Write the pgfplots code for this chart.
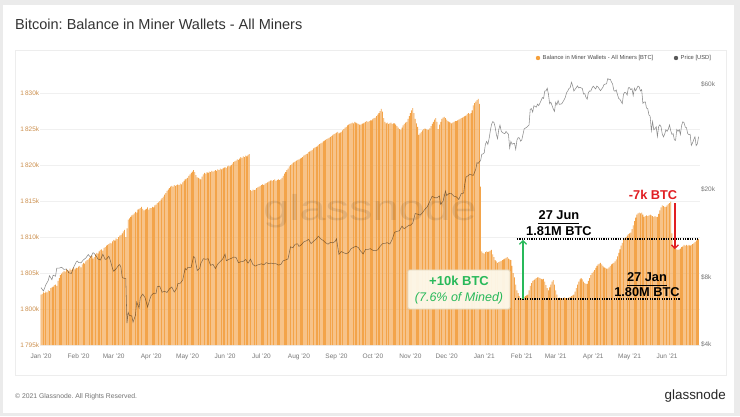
\documentclass[border=0pt]{standalone}
\usepackage{fontspec}
\setmainfont{Liberation Sans}
\usepackage{pgfplots}
\usepackage{pgfplotstable}
\pgfplotsset{compat=1.18}
\usetikzlibrary{arrows.meta}
\frenchspacing
\definecolor{barorange}{RGB}{243,164,74}
\definecolor{legorange}{RGB}{245,160,60}
\definecolor{tickorange}{RGB}{205,145,80}
\definecolor{tickgray}{RGB}{120,120,120}
\definecolor{anngreen}{RGB}{40,185,90}
\definecolor{annred}{RGB}{225,30,35}
\definecolor{boxfill}{RGB}{253,248,234}
\definecolor{boxdraw}{RGB}{228,216,190}

\pgfplotstableread[row sep=\\]{v\\
1802.0\\1802.1\\1802.3\\1802.2\\1802.4\\1802.3\\1802.6\\1802.5\\1802.9\\1803.0\\
1803.1\\1803.3\\1803.4\\1803.2\\1803.9\\1804.3\\1804.7\\1804.9\\1805.1\\1805.3\\
1805.2\\1805.5\\1805.4\\1805.3\\1805.6\\1805.4\\1805.6\\1805.8\\1805.5\\1805.7\\
1805.7\\1805.9\\1806.0\\1805.8\\1806.2\\1806.4\\1806.3\\1806.6\\1806.8\\1806.9\\
1807.1\\1807.3\\1807.4\\1807.0\\1807.2\\1807.6\\1807.8\\1807.7\\1808.0\\1808.2\\
1808.3\\1808.1\\1808.5\\1808.6\\1808.8\\1808.9\\1809.0\\1809.2\\1809.1\\1809.4\\
1809.6\\1809.5\\1809.8\\1809.7\\1810.0\\1810.2\\1810.3\\1810.5\\1810.8\\1811.0\\
1810.0\\1811.2\\1812.4\\1812.6\\1812.8\\1813.0\\1813.1\\1813.3\\1813.5\\1813.4\\
1813.8\\1813.9\\1814.0\\1814.2\\1813.9\\1813.7\\1813.8\\1813.9\\1814.1\\1813.8\\
1814.0\\1814.0\\1814.2\\1814.1\\1814.4\\1814.5\\1814.7\\1814.8\\1815.0\\1815.2\\
1815.4\\1815.6\\1815.9\\1816.1\\1816.4\\1816.6\\1816.8\\1817.0\\1817.1\\1817.0\\
1817.2\\1817.1\\1817.2\\1817.3\\1817.2\\1817.4\\1817.3\\1817.6\\1817.8\\1818.0\\
1818.1\\1818.2\\1818.5\\1818.7\\1818.9\\1819.1\\1819.3\\1819.0\\1818.6\\1818.3\\
1818.2\\1818.1\\1818.0\\1818.4\\1818.7\\1818.9\\1818.8\\1819.0\\1818.9\\1819.1\\
1819.0\\1819.2\\1819.1\\1819.2\\1819.3\\1819.2\\1819.4\\1819.3\\1819.5\\1819.4\\
1819.5\\1819.6\\1819.7\\1819.6\\1819.8\\1819.9\\1819.8\\1820.0\\1820.2\\1820.4\\
1820.5\\1820.6\\1820.8\\1820.7\\1820.9\\1821.1\\1821.0\\1821.2\\1821.1\\1821.3\\
1821.2\\1821.4\\1821.5\\1816.5\\1816.4\\1816.6\\1816.5\\1816.6\\1816.8\\1816.9\\
1817.0\\1817.1\\1817.2\\1817.3\\1817.2\\1817.4\\1817.5\\1817.6\\1817.7\\1817.8\\
1817.9\\1817.8\\1817.9\\1818.0\\1817.8\\1817.9\\1818.0\\1817.9\\1818.0\\1818.2\\
1818.5\\1818.8\\1819.0\\1819.3\\1819.5\\1819.8\\1820.0\\1820.1\\1820.3\\1820.4\\
1820.5\\1820.6\\1820.7\\1820.8\\1820.9\\1821.0\\1821.1\\1821.3\\1821.4\\1821.5\\
1821.6\\1821.8\\1821.9\\1822.0\\1822.1\\1822.3\\1822.4\\1822.5\\1822.6\\1822.8\\
1822.9\\1823.0\\1823.1\\1823.3\\1823.4\\1823.5\\1823.6\\1823.7\\1823.8\\1823.9\\
1824.0\\1824.2\\1824.3\\1824.4\\1824.5\\1824.6\\1824.4\\1824.5\\1824.6\\1824.8\\
1825.0\\1825.2\\1825.3\\1825.5\\1825.6\\1825.7\\1825.8\\1825.9\\1825.8\\1826.0\\
1825.9\\1825.8\\1825.7\\1825.6\\1825.6\\1825.7\\1825.8\\1825.9\\1826.0\\1826.1\\
1826.0\\1826.1\\1826.2\\1826.2\\1826.4\\1826.5\\1826.6\\1826.8\\1827.0\\1827.2\\
1827.5\\1827.8\\1827.4\\1826.5\\1826.0\\1825.8\\1825.9\\1825.7\\1825.8\\1825.9\\
1825.7\\1825.8\\1825.8\\1825.6\\1825.4\\1825.2\\1825.0\\1824.9\\1825.2\\1825.5\\
1825.7\\1825.9\\1826.0\\1826.4\\1826.8\\1827.2\\1827.6\\1827.9\\1827.2\\1826.4\\
1825.8\\1825.3\\1824.2\\1824.4\\1824.6\\1824.8\\1825.0\\1825.1\\1825.0\\1824.9\\
1824.9\\1825.1\\1825.4\\1825.7\\1826.0\\1826.3\\1826.5\\1826.0\\1825.0\\1825.6\\
1826.0\\1826.4\\1826.6\\1826.7\\1826.5\\1826.3\\1826.1\\1826.0\\1825.9\\1825.8\\
1825.9\\1826.0\\1826.1\\1826.1\\1826.2\\1826.3\\1826.4\\1826.5\\1826.6\\1826.7\\
1826.8\\1826.9\\1827.1\\1827.2\\1827.1\\1827.2\\1827.6\\1828.3\\1828.6\\1828.8\\
1829.0\\1829.2\\1828.5\\1817.0\\1808.0\\1807.8\\1807.7\\1807.9\\1808.0\\1807.9\\
1808.0\\1808.1\\1808.2\\1807.6\\1807.2\\1806.8\\1806.6\\1806.4\\1806.5\\1806.6\\
1806.7\\1806.8\\1806.9\\1807.0\\1807.1\\1807.2\\1807.0\\1806.9\\1806.8\\1806.0\\
1805.0\\1804.4\\1803.4\\1802.6\\1802.2\\1801.8\\1801.4\\1801.5\\1801.6\\1801.7\\
1801.8\\1801.9\\1802.0\\1802.6\\1803.2\\1803.6\\1803.9\\1804.0\\1804.2\\1804.3\\
1804.4\\1804.4\\1804.3\\1804.2\\1804.1\\1804.2\\1803.8\\1803.3\\1802.9\\1802.6\\
1803.0\\1803.4\\1803.8\\1804.0\\1803.4\\1802.6\\1802.0\\1801.5\\1801.6\\1801.5\\
1801.4\\1801.5\\1801.6\\1801.5\\1801.4\\1801.5\\1801.6\\1801.7\\1801.8\\1801.9\\
1802.0\\1802.4\\1802.9\\1803.4\\1803.8\\1804.1\\1804.3\\1804.1\\1803.8\\1803.6\\
1803.5\\1803.5\\1803.9\\1804.3\\1804.7\\1805.0\\1805.2\\1805.4\\1805.7\\1806.0\\
1806.2\\1806.3\\1806.4\\1806.2\\1806.0\\1805.8\\1805.7\\1805.6\\1805.6\\1805.8\\
1806.0\\1806.2\\1806.3\\1806.4\\1806.6\\1806.9\\1807.3\\1807.8\\1808.3\\1808.8\\
1809.2\\1809.6\\1809.8\\1810.0\\1810.2\\1810.4\\1810.5\\1810.6\\1811.1\\1811.6\\
1812.2\\1812.7\\1813.1\\1813.3\\1813.4\\1813.3\\1813.4\\1813.1\\1812.8\\1812.9\\
1813.0\\1812.9\\1813.0\\1813.1\\1813.0\\1812.9\\1812.8\\1812.9\\1812.8\\1812.8\\
1813.2\\1813.7\\1814.1\\1814.4\\1814.3\\1814.2\\1814.2\\1814.4\\1814.6\\1814.7\\
1814.9\\1810.5\\1808.6\\1808.5\\1808.4\\1808.3\\1808.2\\1808.3\\1808.4\\1808.6\\
1808.7\\1808.9\\1808.8\\1808.9\\1808.8\\1808.9\\1808.8\\1808.9\\1809.0\\1809.1\\
1809.3\\1809.5\\1809.6\\1809.7\\
}\bars

\pgfplotstableread{
d p
0 7200
2 6950
4 7410
6 7760
7 8150
9 7820
10 8190
12 8110
13 8810
15 8820
17 8900
19 8700
21 8740
23 8400
25 8340
27 8910
29 9390
30 9500
31 9350
33 9320
35 9610
37 9800
39 10160
41 9860
43 10360
44 10270
46 9920
47 9700
49 9600
51 10180
53 9670
54 9680
56 9990
57 9650
59 8800
60 8540
62 8760
64 9070
65 9150
66 8900
67 8040
68 7950
70 7910
71 4970
72 5560
73 5390
75 5360
76 5020
78 5400
79 6190
81 5830
82 6490
84 6730
86 6470
88 5880
90 6410
91 6640
93 6790
95 6780
96 7270
98 7310
100 6860
102 6930
104 6840
106 7100
108 7250
110 6880
112 7120
113 7500
115 7540
117 7790
119 8790
120 8660
121 8860
124 8900
126 9950
127 9850
129 8600
131 8800
132 9270
134 9730
136 9670
138 9730
140 9080
142 9170
144 8790
146 9200
148 9460
150 9700
152 10200
153 9520
155 9660
157 9760
159 9890
161 9870
163 9330
165 9430
167 9460
169 9650
171 9290
173 9690
175 9150
177 9010
179 9120
181 9190
182 9230
184 9130
186 9340
188 9250
190 9290
192 9230
194 9240
196 9110
198 9160
200 9530
202 9600
204 9720
206 11010
208 10910
210 11330
212 11350
213 11060
215 11250
217 11600
219 11710
221 11900
223 11390
225 11660
227 11910
229 12300
231 11960
233 11760
235 11490
237 11320
239 11540
241 11480
243 11670
244 11970
246 10190
248 10490
250 10350
252 10240
254 10370
256 10790
258 10950
260 11080
262 10930
264 10530
266 10230
268 10730
270 10720
272 10800
274 10620
276 10570
278 10670
280 11060
282 11380
284 11420
286 11500
288 11330
290 11910
292 12820
294 12930
296 13030
298 13650
300 13290
302 13570
304 13800
305 13780
307 14130
309 15580
311 15480
313 15330
315 15700
317 16290
319 16720
321 17680
323 18660
325 18370
327 18370
329 18720
330 17150
332 17720
334 19700
335 18800
337 19200
339 19160
341 18650
343 18540
345 18040
347 19180
349 19270
350 21310
351 22800
353 23150
354 23480
356 23240
357 23200
359 24700
360 26440
361 26300
363 27080
364 28900
365 29000
366 29370
367 32130
368 33000
369 32020
370 34000
371 36800
372 39400
373 40600
374 40250
375 38350
376 35550
377 34000
378 37400
379 39150
380 36830
381 36200
383 35800
384 36630
385 36070
386 35550
387 30830
388 33000
389 32080
390 32280
391 32370
392 30430
393 33470
394 34320
395 34300
396 33110
397 33540
399 37650
401 38230
403 39250
404 46200
405 46480
406 44840
407 47910
409 47170
410 48720
411 47940
412 49200
414 52150
415 51680
416 55890
417 55860
418 57490
419 54090
420 48890
421 49680
423 46340
424 45140
425 49630
426 48380
427 50540
428 48560
430 48880
432 50970
433 52380
434 54880
435 55880
436 57330
437 57850
438 61200
439 59050
440 55850
441 56800
443 58910
444 57650
445 58030
447 57350
448 54080
449 54340
450 52300
451 51290
452 55030
453 55860
454 55780
455 57630
456 58740
458 57060
459 58800
460 58230
462 56000
464 58140
465 59800
467 60200
468 63540
469 62970
470 63200
471 61460
472 60050
473 56200
474 55710
475 56450
476 53790
477 51700
478 51190
479 50100
480 49000
481 54000
482 55030
483 54820
484 53560
485 57750
486 57830
487 56610
488 57200
489 53240
490 57480
491 56040
492 57400
493 58800
494 58230
495 55860
496 56610
497 49150
498 49720
499 49880
500 46760
501 46430
502 43540
503 42910
504 36960
505 40600
506 37300
507 37720
508 38480
509 34770
510 38530
511 39260
512 38440
513 35690
514 34620
515 35670
516 37300
517 36690
518 37570
519 39190
520 36890
521 35520
522 35800
523 33550
524 33400
525 37390
526 36690
527 37340
528 35550
529 39100
530 40520
531 40140
532 38350
533 38090
534 35820
535 35480
536 35600
537 31680
538 32500
539 33690
540 34660
541 31620
542 32240
543 34700
}\price

\begin{document}
\begin{tikzpicture}[x=1pt,y=1pt]
\useasboundingbox (0,0) rectangle (740,416);
\fill[black!8] (0,0) rectangle (740,416);
\fill[white] (3,3) rectangle (734,411);
\draw[black!7, fill=white, line width=0.8pt] (15,41) rectangle (726,366);
\node[anchor=base west, inner sep=0, font=\fontsize{14.5}{16}\selectfont, text=black!80] at (15,386) {Bitcoin: Balance in Miner Wallets - All Miners};

% legend
\fill[legorange] (538,358) circle (2.2);
\node[anchor=west, inner sep=0, font=\fontsize{5.8}{6}\selectfont, text=black!70] at (542.5,358) {Balance in Miner Wallets - All Miners [BTC]};
\fill[black!65] (676,358) circle (2.2);
\node[anchor=west, inner sep=0, font=\fontsize{5.8}{6}\selectfont, text=black!70] at (680.5,358) {Price [USD]};

% footer
\node[anchor=base west, inner sep=0, font=\fontsize{6.8}{7}\selectfont, text=black!55] at (15,17.5) {\textcopyright{} 2021 Glassnode. All Rights Reserved.};
\node[anchor=base east, inner sep=0, font=\fontsize{13.4}{14}\selectfont, text=black!85] at (726,17) {glassnode};

\begin{axis}[
  at={(40.4pt,71pt)}, anchor=south west,
  width=659.4pt, height=283pt, scale only axis,
  xmin=-0.5, xmax=544, ymin=1795, ymax=1834.31,
  axis line style={draw=none}, tick style={draw=none},
  ytick={1795,1800,1805,1810,1815,1820,1825,1830},
  yticklabels={1\,795k,1\,800k,1\,805k,1\,810k,1\,815k,1\,820k,1\,825k,1\,830k},
  yticklabel style={font=\fontsize{6.5}{7}\selectfont, text=tickorange, inner sep=1pt},
  xtick={0,31,60,91,121,152,182,213,244,274,305,335,366,397,425,456,486,517},
  xticklabels={Jan '20,Feb '20,Mar '20,Apr '20,May '20,Jun '20,Jul '20,Aug '20,Sep '20,Oct '20,Nov '20,Dec '20,Jan '21,Feb '21,Mar '21,Apr '21,May '21,Jun '21},
  xticklabel style={font=\fontsize{6.5}{7}\selectfont, text=tickgray, yshift=-5pt},
  ymajorgrids, grid style={black!6, line width=0.5pt},
]
\addplot[ybar, bar width=0.64, bar shift=0pt, fill=barorange, draw=none] table[x expr=\coordindex, y=v]{\bars};
\end{axis}

\begin{axis}[
  at={(40.4pt,71pt)}, anchor=south west,
  width=659.4pt, height=283pt, scale only axis,
  xmin=-0.5, xmax=544, ymode=log, ymin=3960, ymax=75560,
  axis y line*=right, axis x line=none,
  axis line style={draw=none}, tick style={draw=none},
  ytick={4000,8000,20000,60000}, minor ytick={},
  yticklabels={\$4k,\$8k,\$20k,\$60k},
  yticklabel style={font=\fontsize{6.5}{7}\selectfont, text=tickgray, inner sep=1pt},
]
\addplot[black, opacity=0.45, line width=0.55pt] table[x=d, y=p]{\price};
\end{axis}

\node[opacity=0.09, font=\fontsize{36}{40}\selectfont, xscale=1.3] at (370,205) {glassnode};

\begin{axis}[
  at={(40.4pt,71pt)}, anchor=south west,
  width=659.4pt, height=283pt, scale only axis,
  xmin=-0.5, xmax=544, ymin=1795, ymax=1834.31,
  hide axis, clip=false,
]
\addplot[draw=none] coordinates {(0,1800)};
% dotted lines
\draw[black, line width=1.3pt, dash pattern=on 1.2pt off 1.2pt] (axis cs:393,1809.72) -- (axis cs:542.5,1809.72);
\draw[black, line width=1.3pt, dash pattern=on 1.2pt off 1.2pt] (axis cs:391.5,1801.39) -- (axis cs:527.5,1801.39);
% arrows
\draw[anngreen, line width=1.3pt, -{Straight Barb[length=3.5pt,width=7pt]}] (axis cs:398,1801.4) -- (axis cs:398,1809.6);
\draw[annred, line width=1.3pt, -{Straight Barb[length=3.5pt,width=7pt]}] (axis cs:523.5,1814.7) -- (axis cs:523.5,1808.3);
% box
\draw[boxdraw, fill=boxfill, fill opacity=0.95, line width=0.8pt, rounded corners=1.5pt] (axis cs:303,1800.0) rectangle (axis cs:387.3,1805.42);
\node[anchor=base, inner sep=0, font=\fontsize{13}{14}\selectfont\bfseries, text=anngreen] at (axis cs:345.2,1803.26) {+10k BTC};
\node[anchor=base, inner sep=0, font=\fontsize{12.5}{14}\selectfont\itshape, text=anngreen] at (axis cs:345.2,1801.1) {(7.6\% of Mined)};
% texts
\node[anchor=base, inner sep=0, font=\fontsize{12.8}{14}\selectfont\bfseries] (jun) at (axis cs:427.7,1812.43) {27 Jun};
\draw[line width=1.1pt] ([yshift=-3.8pt]jun.base west) -- ([yshift=-3.8pt]jun.base east);
\node[anchor=base, inner sep=0, font=\fontsize{12.8}{14}\selectfont\bfseries] at (axis cs:427.7,1810.21) {1.81M BTC};
\node[anchor=base, inner sep=0, font=\fontsize{12.8}{14}\selectfont\bfseries] (jan) at (axis cs:500.4,1803.82) {27 Jan};
\draw[line width=1.1pt] ([yshift=-3.8pt]jan.base west) -- ([yshift=-3.8pt]jan.base east);
\node[anchor=base, inner sep=0, font=\fontsize{12.8}{14}\selectfont\bfseries] at (axis cs:500.4,1801.74) {1.80M BTC};
\node[anchor=base, inner sep=0, font=\fontsize{12.8}{14}\selectfont\bfseries, text=annred] at (axis cs:505.4,1815.2) {-7k BTC};
\end{axis}
\end{tikzpicture}
\end{document}
